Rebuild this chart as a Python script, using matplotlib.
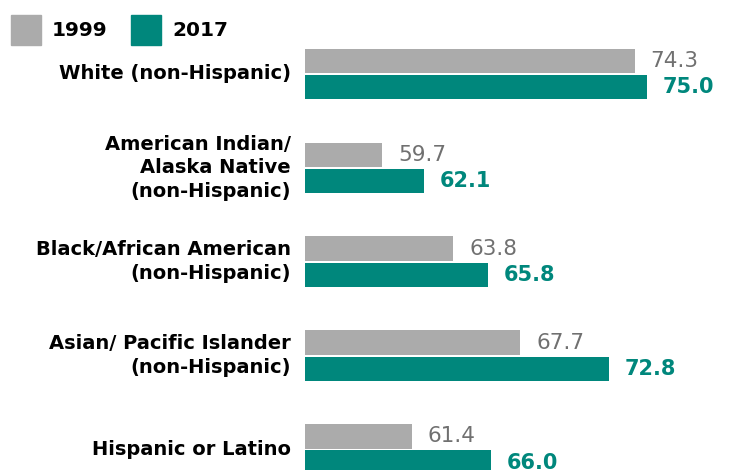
import matplotlib.pyplot as plt
from matplotlib.patches import Rectangle

groups = ["White (non-Hispanic)",
          "American Indian/\nAlaska Native\n(non-Hispanic)",
          "Black/African American\n(non-Hispanic)",
          "Asian/ Pacific Islander\n(non-Hispanic)",
          "Hispanic or Latino"]
years = ["1999", "2017"]
vals_1999 = [74.3, 59.7, 63.8, 67.7, 61.4]
vals_2017 = [75.0, 62.1, 65.8, 72.8, 66.0]

gray = "#ababab"
teal = "#00877c"
plt.rcParams['font.family'] = ['DejaVu Sans']

fig = plt.figure(figsize=(7.34, 4.70), dpi=100)
ax = fig.add_axes([305 / 734, 0, 1 - 305 / 734, 1])

base = 55.23
scale = 17.28  # px per unit
ys = list(range(len(groups)))
h = 0.26
off = 0.14
for i, y in enumerate(ys):
    ax.barh(y - off, vals_1999[i] - base, left=base, height=h, color=gray)
    ax.barh(y + off, vals_2017[i] - base, left=base, height=h, color=teal)
    ax.text(vals_1999[i] + 16 / scale, y - off, f"{vals_1999[i]:.1f}", va="center",
            ha="left", fontsize=15.5, color="#707070")
    ax.text(vals_2017[i] + 16 / scale, y + off, f"{vals_2017[i]:.1f}", va="center",
            ha="left", fontsize=15, color=teal, fontweight="bold")
    ax.text(-14 / (734 - 305), y, groups[i], transform=ax.get_yaxis_transform(),
            ha="right", va="center", fontsize=14, fontweight="bold",
            linespacing=1.32, clip_on=False)

ax.set_xlim(base, base + (734 - 305) / scale)
ax.set_ylim(4.218, -0.788)
ax.axis("off")

# legend
for x0, lab, col in [(11, years[0], gray), (131, years[1], teal)]:
    fig.patches.append(Rectangle((x0 / 734, 1 - 45 / 470), 30 / 734, 30 / 470,
                                 transform=fig.transFigure, color=col))
    fig.text((x0 + 41) / 734, 1 - 30 / 470, lab, ha="left", va="center",
             fontsize=14.5, fontweight="bold")

fig.savefig("out.png", dpi=100)
